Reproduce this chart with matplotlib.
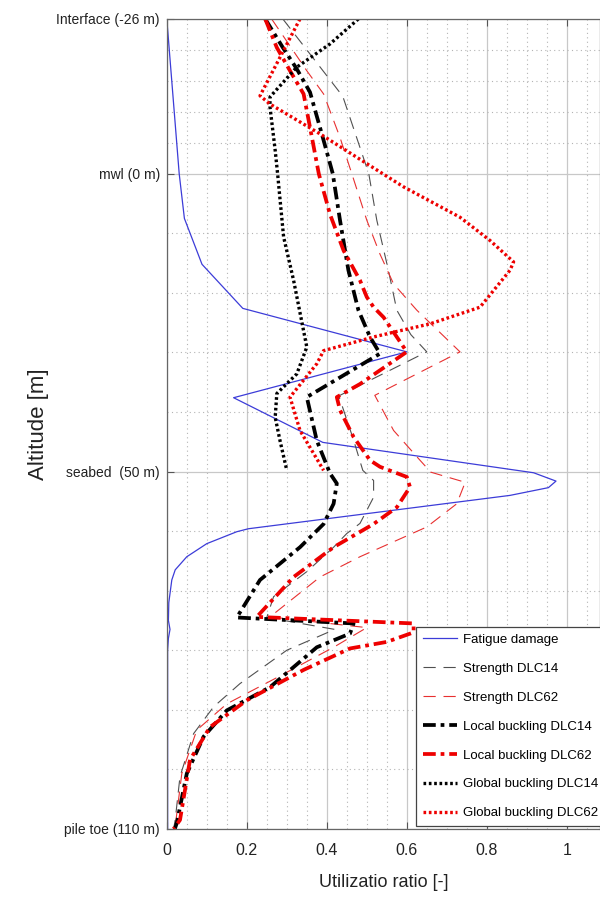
import numpy as np
import matplotlib
matplotlib.use("Agg")
import matplotlib.pyplot as plt
from matplotlib.ticker import FixedLocator

plt.rcParams['font.family'] = ['Liberation Sans', 'DejaVu Sans']

# --- data (altitude in m, utilization ratio) ---
fatigue_alt = [-26, 0, 7.5, 15.2, 22.6, 29.9, 37.6, 45.1, 50.2, 51.6, 52.7, 54.0,
               59.6, 60.1, 62.1, 64.3, 66.5, 68.2, 72, 75, 76.5, 78, 80, 110]
fatigue_ur = [0, 0.031, 0.044, 0.088, 0.19, 0.60, 0.167, 0.39, 0.917, 0.973, 0.954, 0.858,
              0.204, 0.175, 0.10, 0.05, 0.021, 0.0125, 0.005, 0.004, 0.008, 0.004, 0.002, 0.002]

str14_alt = [-26, -13, 0, 7.8, 16.2, 22.9, 27, 29.9, 37.3, 44.7, 49.8, 51.5, 54.3, 56.5,
             58.7, 60.4, 62.7, 66.8, 71, 74.5, 76.5, 80, 85.6, 89.5, 94, 101.2, 108.5, 110]
str14_ur = [0.29, 0.44, 0.505, 0.525, 0.554, 0.575, 0.61, 0.65, 0.43, 0.467, 0.49, 0.517, 0.517, 0.50,
            0.483, 0.45, 0.417, 0.35, 0.267, 0.25, 0.42, 0.30, 0.183, 0.117, 0.067, 0.033, 0.021, 0.017]

str62_alt = [-26, -17.3, -13.4, -6.1, 0.5, 7.8, 13.5, 18.5, 22.9, 29.9, 37.2, 43.1, 48.1, 50.1,
             51.8, 55.4, 59.3, 64.3, 67.7, 74.4, 76.2, 79.5, 84.6, 89, 93.4, 100.7, 109.6, 110]
str62_ur = [0.262, 0.35, 0.392, 0.433, 0.465, 0.50, 0.533, 0.567, 0.625, 0.733, 0.52, 0.567, 0.633, 0.66,
            0.746, 0.725, 0.65, 0.483, 0.383, 0.258, 0.50, 0.417, 0.275, 0.15, 0.075, 0.0375, 0.021, 0.02]

loc14_alt = [-26, -21.2, -17.6, -13.7, -6.1, 0, 7.8, 16.2, 22.9, 27.4, 30.2, 37.5, 44.8, 50.3, 52,
             55.4, 58.8, 62.7, 68.2, 74.5, 75.5, 77.2, 79.5, 81.4, 86.2, 90.1, 94.5, 100.7, 109, 110]
loc14_ur = [0.246, 0.29, 0.325, 0.358, 0.39, 0.415, 0.433, 0.454, 0.479, 0.508, 0.533, 0.35, 0.375, 0.408, 0.425,
            0.417, 0.392, 0.333, 0.233, 0.175, 0.467, 0.458, 0.375, 0.342, 0.258, 0.15, 0.092, 0.05, 0.025, 0.02]

loc62_alt = [-26, -21.2, -17.3, -13.4, -7.8, 0, 6.8, 12.9, 17.9, 20.7, 22.4, 24.1, 29.9, 35.3, 37.5, 39.7,
             44.2, 48.1, 49.2, 50.9, 52.6, 56, 58.8, 62.7, 67.7, 74.4, 75.5, 77, 78.6, 79.7, 83.3,
             88.4, 92.9, 98.4, 108.5, 110]
loc62_ur = [0.246, 0.275, 0.308, 0.342, 0.358, 0.38, 0.408, 0.442, 0.483, 0.50, 0.517, 0.542, 0.60, 0.483, 0.425, 0.433,
            0.467, 0.508, 0.533, 0.60, 0.608, 0.575, 0.517, 0.417, 0.317, 0.225, 0.617, 0.617, 0.55, 0.458, 0.342,
            0.20, 0.108, 0.058, 0.033, 0.017]

glob14_alt = [-26, -21.8, -17.9, -12.9, -11.2, -3.9, 0, 10.6, 17.9, 29.1, 33.6, 36.9, 40.9, 44.8, 49.8]
glob14_ur = [0.479, 0.408, 0.325, 0.258, 0.258, 0.271, 0.277, 0.292, 0.317, 0.35, 0.325, 0.275, 0.271, 0.283, 0.30]

glob62_alt = [-26, -13.1, -11.7, -6.7, -1.7, 2.2, 7.3, 11.2, 14.8, 16.2, 22.4, 25.2, 26.6, 27.4,
              29.7, 31.9, 37.5, 43.1, 49.8]
glob62_ur = [0.333, 0.233, 0.258, 0.383, 0.50, 0.592, 0.733, 0.808, 0.867, 0.858, 0.783, 0.658, 0.567, 0.517,
             0.392, 0.375, 0.308, 0.333, 0.392]

ytick_pos = [-26, 0, 50, 110]
ytick_labels = ['Interface (-26 m)', 'mwl (0 m)', 'seabed  (50 m)', 'pile toe (110 m)']

# --- plot ---
fig = plt.figure(figsize=(6, 9.01), dpi=100)
ax = fig.add_axes([0.278, 0.080, 0.722, 0.899])

ax.plot(fatigue_ur, fatigue_alt, color='#3c3cd8', lw=0.9, label='Fatigue damage')
ax.plot(str14_ur, str14_alt, color='#505050', lw=0.8, ls=(0, (11, 7)), label='Strength DLC14')
ax.plot(str62_ur, str62_alt, color='#e83030', lw=0.8, ls=(0, (11, 7)), label='Strength DLC62')
ax.plot(loc14_ur, loc14_alt, color='black', lw=2.7, ls=(0, (3.4, 1.3, 1, 1.3)), label='Local buckling DLC14')
ax.plot(loc62_ur, loc62_alt, color='#ee0000', lw=2.7, ls=(0, (3.4, 1.3, 1, 1.3)), label='Local buckling DLC62')
ax.plot(glob14_ur, glob14_alt, color='black', lw=2.4, ls=(0, (0.8, 0.8)), label='Global buckling DLC14')
ax.plot(glob62_ur, glob62_alt, color='#ee0000', lw=2.4, ls=(0, (0.8, 0.8)), label='Global buckling DLC62')

ax.set_xlim(0, 1.083)
ax.set_ylim(110, -26)

ax.set_xticks([0, 0.2, 0.4, 0.6, 0.8, 1.0])
ax.set_xticklabels(['0', '0.2', '0.4', '0.6', '0.8', '1'])
ax.set_yticks(ytick_pos)
ax.set_yticklabels(ytick_labels)
ax.xaxis.set_minor_locator(FixedLocator(np.arange(0.05, 1.1, 0.05)))
ax.yaxis.set_minor_locator(FixedLocator([-20.8, -15.6, -10.4, -5.2, 10, 20, 30, 40, 60, 70, 80, 90, 100]))

ax.grid(True, which='major', color='#c8c8c8', lw=0.9, ls='-')
ax.grid(True, which='minor', color='#b4b4b4', lw=0.8, ls=(0, (1, 3)))
ax.set_axisbelow(True)

ax.tick_params(which='major', direction='in', length=5, top=True, right=False,
               colors='#555555', labelcolor='#222222')
ax.tick_params(axis='x', which='major', labelsize=11.5, pad=10)
ax.tick_params(axis='y', which='major', labelsize=10, pad=5)
ax.tick_params(which='minor', length=0)
for s in ax.spines.values():
    s.set_color('#666666')
    s.set_linewidth(0.9)

ax.set_xlabel('Utilizatio ratio [-]', fontsize=13, color='#222222', labelpad=12)
ax.set_ylabel('Altitude [m]', fontsize=16, color='#222222')
ax.yaxis.set_label_coords(-0.272, 0.5)

leg = ax.legend(loc='lower left', bbox_to_anchor=(0.575, 0.003), fontsize=9.5,
                frameon=True, fancybox=False, edgecolor='#444444', framealpha=1,
                handlelength=2.6, handletextpad=0.4, labelspacing=1.26,
                borderpad=0.55, borderaxespad=0)
leg.get_frame().set_linewidth(0.9)

plt.savefig('out.png', dpi=100)
